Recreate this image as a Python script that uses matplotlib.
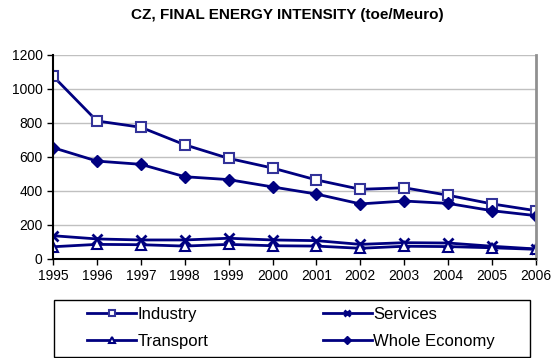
import numpy as np
import matplotlib.pyplot as plt
from matplotlib.patches import Rectangle

plt.rcParams['font.family'] = ['Liberation Sans', 'DejaVu Sans']

years = [1995, 1996, 1997, 1998, 1999, 2000, 2001, 2002, 2003, 2004, 2005, 2006]
industry = [1076, 812, 775, 672, 592, 535, 465, 410, 419, 375, 324, 284]
services = [137, 118, 112, 112, 122, 112, 108, 86, 96, 94, 75, 59]
transport = [72, 86, 84, 76, 86, 78, 76, 63, 75, 73, 66, 57]
whole_economy = [655, 576, 557, 484, 467, 424, 382, 324, 341, 327, 284, 255]

navy = '#000080'

fig = plt.figure(figsize=(5.53, 3.58), dpi=100)
ax = fig.add_axes([53 / 553, 1 - 259 / 358, (536 - 53) / 553, (259 - 55) / 358])

x = np.arange(len(years))
h_ind, = ax.plot(x, industry, color=navy, lw=2, marker='s', ms=7, mfc='white',
                 mec='#333399', mew=1.5, label='Industry')
h_ser, = ax.plot(x, services, color=navy, lw=2, marker='x', ms=7, mew=2,
                 label='Services')
h_tra, = ax.plot(x, transport, color=navy, lw=2, marker='^', ms=7, mfc='white',
                 mec=navy, mew=1.5, label='Transport')
h_who, = ax.plot(x, whole_economy, color=navy, lw=2, marker='D', ms=6, mfc=navy,
                 mec=navy, label='Whole Economy')

ax.set_xlim(0, len(years) - 1)
ax.set_ylim(0, 1200)
ax.set_yticks(range(0, 1201, 200))
ax.set_xticks(x)
ax.set_xticklabels([str(y) for y in years])
ax.tick_params(labelsize=10, length=4, width=1, color='black')
ax.grid(axis='y', color='#c0c0c0', lw=1)
ax.set_axisbelow(True)
ax.spines['top'].set_visible(False)
ax.spines['right'].set_color('#909090')
ax.spines['right'].set_linewidth(2)
ax.spines['left'].set_linewidth(1.5)
ax.spines['bottom'].set_linewidth(1.5)

fig.text(287 / 553, 1 - 15 / 358, 'CZ, FINAL ENERGY INTENSITY (toe/Meuro)',
         ha='center', va='center', fontsize=11, fontweight='bold')

# legend box drawn separately so the padding can be wider than the text
fig.patches.append(Rectangle((54 / 553, 1 - 357 / 358), 476 / 553, 57 / 358,
                             transform=fig.transFigure, fill=False,
                             edgecolor='black', lw=1))
fig.legend([h_ind, h_tra, h_ser, h_who],
           ['Industry', 'Transport', 'Services', 'Whole Economy'],
           loc='center left', bbox_to_anchor=(79 / 553, 1 - 328 / 358),
           ncol=2, fontsize=12, frameon=False, markerscale=0.7,
           columnspacing=6.9, handlelength=2.9, handletextpad=0.1,
           borderpad=0, labelspacing=0.72)

fig.savefig('out.png', dpi=100)
